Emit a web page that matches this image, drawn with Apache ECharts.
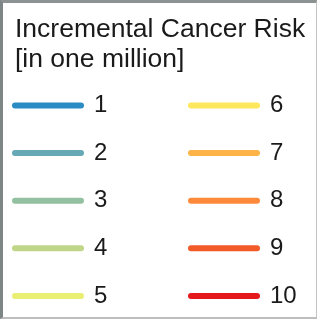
<!DOCTYPE html>
<html>
<head>
<meta charset="utf-8">
<script src="https://cdn.jsdelivr.net/npm/echarts@6/dist/echarts.min.js"></script>
<style>
  html, body { margin: 0; padding: 0; background: #fff; }
  #frame {
    position: absolute; left: 0; top: 0;
    width: 313px; height: 314px;
    border-left: 3px solid #7e8586;
    border-top: 3px solid #8c9192;
    border-right: 1px solid #c4c4c4;
    border-bottom: 2px solid #bdbdbd;
  }
  #chart { position: absolute; left: 0; top: 0; width: 318px; height: 320px; }
</style>
</head>
<body>
<div id="frame"></div>
<div id="chart"></div>
<script>
const titleLines = ['Incremental Cancer Risk', '[in one million]']
const leftNames = ['1', '2', '3', '4', '5']
const rightNames = ['6', '7', '8', '9', '10']
const colors = ['#2b8cc4', '#67a8b5', '#93c0a0', '#bfd688', '#e8ef73',
                '#fde75c', '#fdb347', '#fd8a3a', '#f25a28', '#e3191c']

const chart = echarts.init(document.getElementById('chart'))
const names = leftNames.concat(rightNames)
// 圆头线段图标
const pill = 'path://M3,0 L69,0 A3,3 0 0 1 69,6 L3,6 A3,3 0 0 1 3,0 Z'

const legendBase = {
    orient: 'vertical',
    top: 93.5,
    icon: pill,
    itemWidth: 72,
    itemHeight: 6,
    itemGap: 23.6,
    padding: 0,
    selectedMode: false,
    textStyle: {
        fontFamily: 'Liberation Sans, Arial, sans-serif',
        fontSize: 24,
        lineHeight: 24,
        color: '#1a1a1a',
        padding: [0, 0, 0, 5]
    }
}

chart.setOption({
    animation: false,
    title: {
        text: titleLines.join('\n'),
        left: 15,
        top: 15,
        padding: 0,
        textStyle: {
            fontFamily: 'Liberation Sans, Arial, sans-serif',
            fontSize: 26.5,
            fontWeight: 'normal',
            lineHeight: 30,
            color: '#1a1a1a'
        }
    },
    legend: [
        Object.assign({}, legendBase, { left: 12, data: leftNames }),
        Object.assign({}, legendBase, { left: 188, data: rightNames })
    ],
    grid: { show: false },
    xAxis: { show: false, type: 'category' },
    yAxis: { show: false, type: 'value' },
    series: names.map((n, i) => ({
        name: n,
        type: 'line',
        data: [],
        color: colors[i]
    }))
})
</script>
</body>
</html>
